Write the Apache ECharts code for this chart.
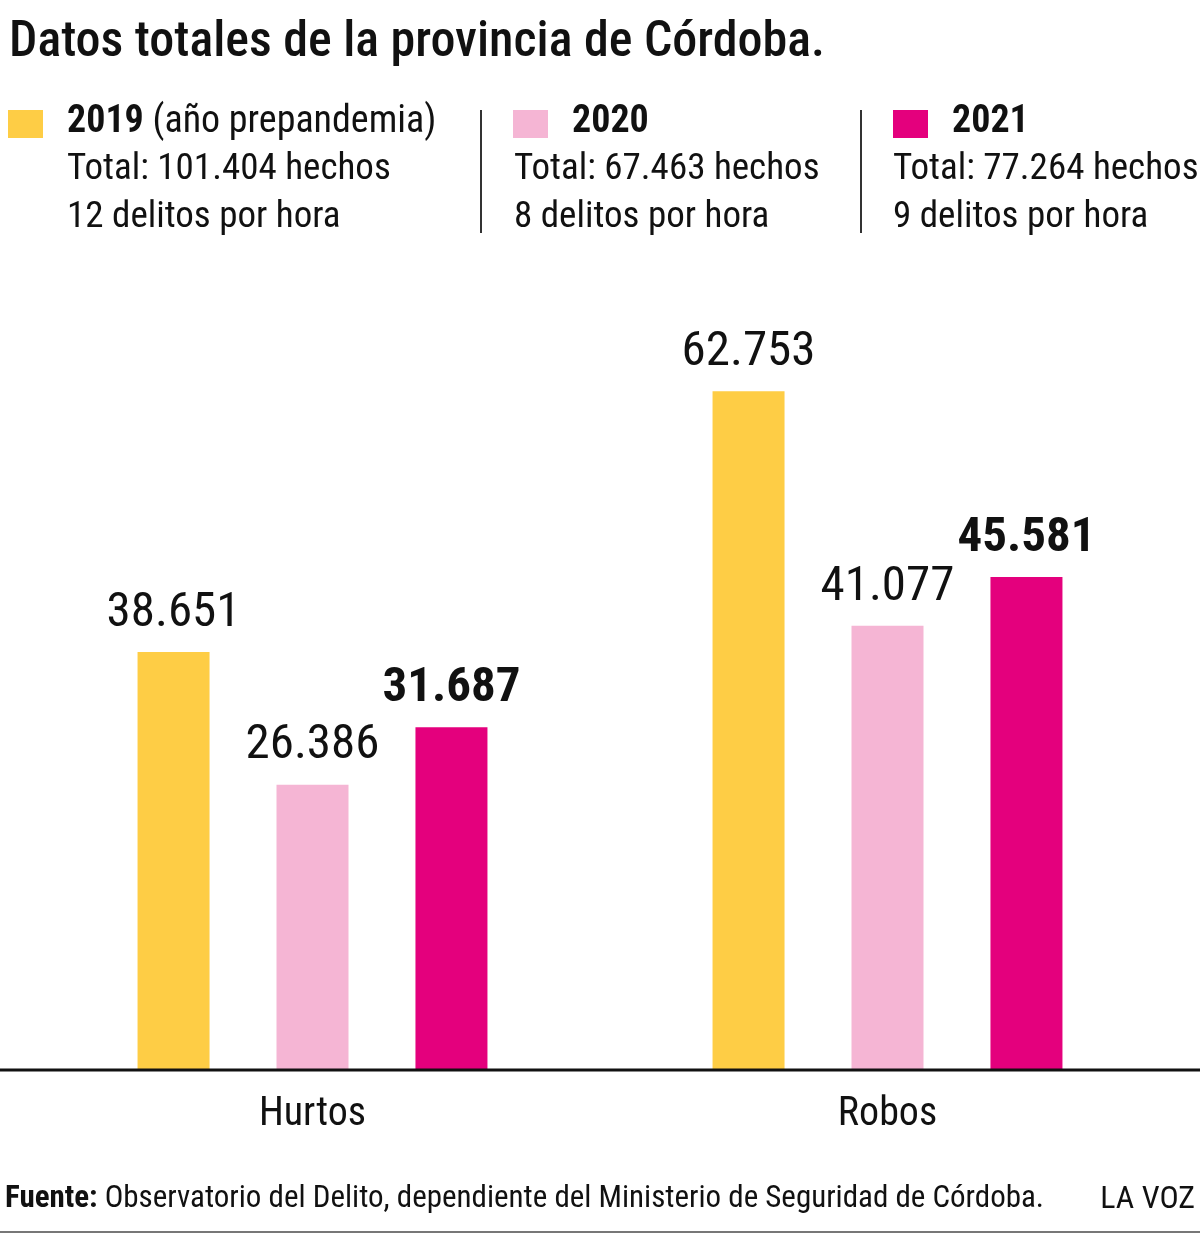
<!DOCTYPE html>
<html>
<head>
<meta charset="utf-8">
<script src="https://cdn.jsdelivr.net/npm/echarts@6/dist/echarts.min.js"></script>
<style>
  html, body { margin: 0; padding: 0; background: #fff; }
  #main { width: 1200px; height: 1235px; }
</style>
</head>
<body>
<div id="main"></div>
<script>
// datos
var categorias = ['Hurtos', 'Robos'];
var anios = ['2019', '2020', '2021'];
var datos2019 = [38651, 62753];
var datos2020 = [26386, 41077];
var datos2021 = [31687, 45581];
var totales = ['101.404', '67.463', '77.264'];
var delitosPorHora = [12, 8, 9];
var notas = [' (año prepandemia)', '', ''];

var colores = ['#FECD45', '#F5B5D4', '#E4007D'];
var FONT = '"Roboto Condensed", "Liberation Sans Narrow", "DejaVu Sans Condensed", "Noto Sans", sans-serif';

function miles(v) {
  return String(v).replace(/\B(?=(\d{3})+(?!\d))/g, '.');
}

var myChart = echarts.init(document.getElementById('main'));

// leyenda armada a mano
var legendX = [8, 513, 893];
var textoX = [67, 514, 893];  // las lineas de total arrancan distinto en cada bloque
var graphic = [];
for (var i = 0; i < anios.length; i++) {
  var x = legendX[i];
  graphic.push({
    type: 'rect', left: x, top: 110,
    shape: { width: 35, height: 28 },
    style: { fill: colores[i] }
  });
  graphic.push({
    type: 'text', left: x + 59, top: 103,
    style: {
      text: '{b|' + anios[i] + '}' + notas[i],
      rich: { b: { fontWeight: 'bold', fontSize: 38, fontFamily: FONT, fill: '#111' } },
      fontSize: 38, fontFamily: FONT, fill: '#111'
    }
  });
  graphic.push({
    type: 'text', left: textoX[i], top: 151,
    style: { text: 'Total: ' + totales[i] + ' hechos', fontSize: 37, fontFamily: FONT, fill: '#111' }
  });
  graphic.push({
    type: 'text', left: textoX[i], top: 199,
    style: { text: delitosPorHora[i] + ' delitos por hora', fontSize: 37, fontFamily: FONT, fill: '#111' }
  });
}
// separadores
[481, 861].forEach(function (sx) {
  graphic.push({
    type: 'line', shape: { x1: sx, y1: 110, x2: sx, y2: 233 },
    style: { stroke: '#333', lineWidth: 2 }
  });
});
// linea base
graphic.push({
  type: 'line', shape: { x1: 0, y1: 1070, x2: 1200, y2: 1070 },
  style: { stroke: '#111', lineWidth: 3 }, z: 10
});
// pie
graphic.push({
  type: 'text', left: 5, top: 1184,
  style: {
    text: '{b|Fuente:} Observatorio del Delito, dependiente del Ministerio de Seguridad de Córdoba.',
    rich: { b: { fontWeight: 'bold', fontSize: 31, fontFamily: FONT, fill: '#111' } },
    fontSize: 31, fontFamily: FONT, fill: '#111'
  }
});
graphic.push({
  type: 'text', right: 5, top: 1184,
  style: { text: 'LA VOZ', fontSize: 32, fontFamily: FONT, fill: '#111' }
});
graphic.push({
  type: 'line', shape: { x1: 0, y1: 1232, x2: 1200, y2: 1232 },
  style: { stroke: '#777', lineWidth: 2 }
});

function serie(nombre, data, color, bold) {
  return {
    name: nombre,
    type: 'bar',
    data: data,
    barWidth: 72,
    barGap: '93%',
    itemStyle: { color: color },
    label: {
      show: true,
      position: 'top',
      distance: 14,
      formatter: function (p) { return miles(p.value); },
      fontSize: 49,
      fontWeight: bold ? 'bold' : 'normal',
      fontFamily: FONT,
      color: '#111'
    }
  };
}

var option = {
  backgroundColor: '#fff',
  animation: false,
  title: {
    text: 'Datos totales de la provincia de Córdoba.',
    left: 4, top: 13,
    textStyle: { fontSize: 50, fontWeight: 500, fontFamily: FONT, color: '#111' }
  },
  grid: { left: 25, right: 25, top: 313, bottom: 165 },
  xAxis: {
    type: 'category',
    data: categorias,
    axisLine: { show: false },
    axisTick: { show: false },
    axisLabel: { fontSize: 40, fontFamily: FONT, color: '#111', margin: 25 }
  },
  yAxis: {
    type: 'value',
    min: 0, max: 70000,
    show: false,
    splitLine: { show: false }
  },
  series: [
    serie(anios[0], datos2019, colores[0], false),
    serie(anios[1], datos2020, colores[1], false),
    serie(anios[2], datos2021, colores[2], true)
  ],
  graphic: graphic
};

if (option && typeof option === 'object') {
  myChart.setOption(option, true);
}
</script>
</body>
</html>
